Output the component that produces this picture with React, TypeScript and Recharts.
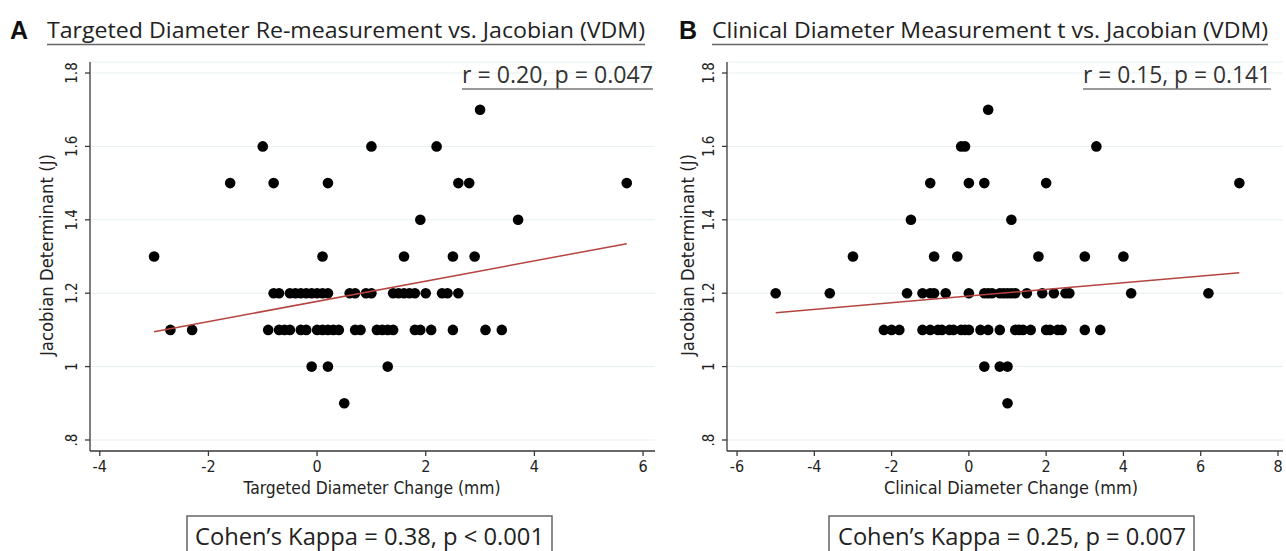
import { CartesianGrid, Scatter, ScatterChart, XAxis, YAxis } from "recharts";

// Panel A: targeted diameter change (mm) vs Jacobian determinant
const targetedPoints = [
  { x: 3.0, y: 1.7 },
  { x: -1.0, y: 1.6 }, { x: 1.0, y: 1.6 }, { x: 2.2, y: 1.6 },
  { x: -1.6, y: 1.5 }, { x: -0.8, y: 1.5 }, { x: 0.2, y: 1.5 }, { x: 2.6, y: 1.5 },
  { x: 2.8, y: 1.5 }, { x: 5.7, y: 1.5 },
  { x: 1.9, y: 1.4 }, { x: 3.7, y: 1.4 },
  { x: -3.0, y: 1.3 }, { x: 0.1, y: 1.3 }, { x: 1.6, y: 1.3 }, { x: 2.5, y: 1.3 }, { x: 2.9, y: 1.3 },
  { x: -0.8, y: 1.2 }, { x: -0.7, y: 1.2 }, { x: -0.5, y: 1.2 }, { x: -0.4, y: 1.2 },
  { x: -0.3, y: 1.2 }, { x: -0.2, y: 1.2 }, { x: -0.1, y: 1.2 }, { x: 0.0, y: 1.2 },
  { x: 0.1, y: 1.2 }, { x: 0.2, y: 1.2 }, { x: 0.6, y: 1.2 }, { x: 0.7, y: 1.2 },
  { x: 0.9, y: 1.2 }, { x: 1.0, y: 1.2 }, { x: 1.4, y: 1.2 }, { x: 1.5, y: 1.2 },
  { x: 1.6, y: 1.2 }, { x: 1.7, y: 1.2 }, { x: 1.8, y: 1.2 }, { x: 2.0, y: 1.2 },
  { x: 2.3, y: 1.2 }, { x: 2.4, y: 1.2 }, { x: 2.6, y: 1.2 },
  { x: -2.7, y: 1.1 }, { x: -2.3, y: 1.1 }, { x: -0.9, y: 1.1 }, { x: -0.7, y: 1.1 },
  { x: -0.6, y: 1.1 }, { x: -0.5, y: 1.1 }, { x: -0.3, y: 1.1 }, { x: -0.2, y: 1.1 },
  { x: 0.0, y: 1.1 }, { x: 0.1, y: 1.1 }, { x: 0.2, y: 1.1 }, { x: 0.3, y: 1.1 },
  { x: 0.4, y: 1.1 }, { x: 0.7, y: 1.1 }, { x: 0.8, y: 1.1 }, { x: 1.1, y: 1.1 },
  { x: 1.2, y: 1.1 }, { x: 1.3, y: 1.1 }, { x: 1.4, y: 1.1 }, { x: 1.8, y: 1.1 },
  { x: 1.9, y: 1.1 }, { x: 2.1, y: 1.1 }, { x: 2.5, y: 1.1 }, { x: 3.1, y: 1.1 }, { x: 3.4, y: 1.1 },
  { x: -0.1, y: 1.0 }, { x: 0.2, y: 1.0 }, { x: 1.3, y: 1.0 },
  { x: 0.5, y: 0.9 },
];
const targetedFit = [
  { x: -3.0, y: 1.095 },
  { x: 5.7, y: 1.335 },
];

// Panel B: clinical diameter change (mm) vs Jacobian determinant
const clinicalPoints = [
  { x: 0.5, y: 1.7 },
  { x: -0.2, y: 1.6 }, { x: -0.1, y: 1.6 }, { x: 3.3, y: 1.6 },
  { x: -1.0, y: 1.5 }, { x: 0.0, y: 1.5 }, { x: 0.4, y: 1.5 }, { x: 2.0, y: 1.5 }, { x: 7.0, y: 1.5 },
  { x: -1.5, y: 1.4 }, { x: 1.1, y: 1.4 },
  { x: -3.0, y: 1.3 }, { x: -0.9, y: 1.3 }, { x: -0.3, y: 1.3 }, { x: 1.8, y: 1.3 },
  { x: 3.0, y: 1.3 }, { x: 4.0, y: 1.3 },
  { x: -5.0, y: 1.2 }, { x: -3.6, y: 1.2 }, { x: -1.6, y: 1.2 }, { x: -1.2, y: 1.2 },
  { x: -1.0, y: 1.2 }, { x: -0.9, y: 1.2 }, { x: -0.6, y: 1.2 }, { x: 0.0, y: 1.2 },
  { x: 0.4, y: 1.2 }, { x: 0.5, y: 1.2 }, { x: 0.6, y: 1.2 }, { x: 0.8, y: 1.2 },
  { x: 0.9, y: 1.2 }, { x: 1.0, y: 1.2 }, { x: 1.1, y: 1.2 }, { x: 1.2, y: 1.2 },
  { x: 1.5, y: 1.2 }, { x: 1.9, y: 1.2 }, { x: 2.2, y: 1.2 }, { x: 2.5, y: 1.2 },
  { x: 2.6, y: 1.2 }, { x: 4.2, y: 1.2 }, { x: 6.2, y: 1.2 },
  { x: -2.2, y: 1.1 }, { x: -2.0, y: 1.1 }, { x: -1.8, y: 1.1 }, { x: -1.2, y: 1.1 },
  { x: -1.0, y: 1.1 }, { x: -0.8, y: 1.1 }, { x: -0.7, y: 1.1 }, { x: -0.5, y: 1.1 },
  { x: -0.4, y: 1.1 }, { x: -0.2, y: 1.1 }, { x: -0.1, y: 1.1 }, { x: 0.0, y: 1.1 },
  { x: 0.3, y: 1.1 }, { x: 0.5, y: 1.1 }, { x: 0.8, y: 1.1 }, { x: 1.2, y: 1.1 },
  { x: 1.3, y: 1.1 }, { x: 1.4, y: 1.1 }, { x: 1.6, y: 1.1 }, { x: 2.0, y: 1.1 },
  { x: 2.1, y: 1.1 }, { x: 2.3, y: 1.1 }, { x: 2.4, y: 1.1 }, { x: 3.0, y: 1.1 }, { x: 3.4, y: 1.1 },
  { x: 0.4, y: 1.0 }, { x: 0.8, y: 1.0 }, { x: 1.0, y: 1.0 },
  { x: 1.0, y: 0.9 },
];
const clinicalFit = [
  { x: -5.0, y: 1.147 },
  { x: 7.0, y: 1.256 },
];

const yTicks = [0.8, 1, 1.2, 1.4, 1.6, 1.8];
const yTickLabels = [".8", "1", "1.2", "1.4", "1.6", "1.8"];
const targetedXTicks = [-4, -2, 0, 2, 4, 6];
const clinicalXTicks = [-6, -4, -2, 0, 2, 4, 6, 8];

const AXIS = "#3a3a3a";
const GRID = "#e6eff2";
const FIT = "#b5443f";
const NARROW = "'Liberation Sans Narrow', 'DejaVu Sans Condensed', 'Liberation Sans', Arial, sans-serif";
const TITLE_FONT = "'Open Sans', 'Noto Sans', sans-serif";

function YTick(props: any) {
  const { x, y, payload } = props;
  const idx = yTicks.indexOf(payload.value);
  const label = idx >= 0 ? yTickLabels[idx] : String(payload.value);
  return (
    <g transform={`translate(${x - 6},${y})`}>
      <text transform="rotate(-90)" textAnchor="middle" fontSize={15} fontFamily={NARROW} fill="#222">
        {label}
      </text>
    </g>
  );
}

function XTick(props: any) {
  const { x, y, payload } = props;
  return (
    <text x={x} y={y + 14} textAnchor="middle" fontSize={16} fontFamily={NARROW} fill="#222">
      {payload.value}
    </text>
  );
}

const dot = (p: any) => <circle cx={p.cx} cy={p.cy} r={5.3} fill="#000" />;
const noDot = () => <g />;

type PanelProps = {
  points: { x: number; y: number }[];
  fit: { x: number; y: number }[];
  xDomain: [number, number];
  xTicks: number[];
  width: number;
  left: number;
  marginLeft: number;
  marginRight: number;
};

function Panel({ points, fit, xDomain, xTicks, width, left, marginLeft, marginRight }: PanelProps) {
  return (
    <div style={{ position: "absolute", left, top: 0 }}>
      <ScatterChart
        width={width}
        height={500}
        margin={{ top: 62, right: marginRight, bottom: 19, left: marginLeft }}
      >
        <CartesianGrid vertical={false} stroke={GRID} strokeWidth={1} />
        <XAxis
          type="number"
          dataKey="x"
          domain={xDomain}
          ticks={xTicks}
          allowDataOverflow
          height={30}
          tickSize={5}
          stroke={AXIS}
          strokeWidth={1.3}
          tick={<XTick />}
        />
        <YAxis
          type="number"
          dataKey="y"
          domain={[0.77, 1.83]}
          ticks={yTicks}
          allowDataOverflow
          width={60}
          tickSize={5}
          stroke={AXIS}
          strokeWidth={1.3}
          tick={<YTick />}
        />
        <Scatter data={points} fill="#000" shape={dot} isAnimationActive={false} />
        <Scatter
          data={fit}
          line={{ stroke: FIT, strokeWidth: 1.5 }}
          shape={noDot}
          isAnimationActive={false}
        />
      </ScatterChart>
    </div>
  );
}

export default function App() {
  return (
    <div
      style={{
        position: "absolute",
        left: 0,
        top: 0,
        width: 1286,
        height: 551,
        background: "#fff",
        overflow: "hidden",
      }}
    >
      <Panel
        points={targetedPoints}
        fit={targetedFit}
        xDomain={[-4.18, 6.22]}
        xTicks={targetedXTicks}
        width={660}
        left={0}
        marginLeft={30}
        marginRight={5}
      />
      <Panel
        points={clinicalPoints}
        fit={clinicalFit}
        xDomain={[-6.26, 8.13]}
        xTicks={clinicalXTicks}
        width={646}
        left={640}
        marginLeft={27}
        marginRight={3}
      />
      <svg
        width={1286}
        height={551}
        style={{ position: "absolute", left: 0, top: 0, pointerEvents: "none" }}
      >
        {/* panel titles */}
        <text x={10} y={39} fontSize={25} fontWeight="bold" fontFamily="'Liberation Sans', Arial, sans-serif" fill="#111">A</text>
        <text x={47} y={38} fontSize={22.5} fontFamily={TITLE_FONT} fill="#222" textLength={598} lengthAdjust="spacingAndGlyphs">
          Targeted Diameter Re-measurement vs. Jacobian (VDM)
        </text>
        <line x1={47} x2={645} y1={44.5} y2={44.5} stroke="#666" strokeWidth={1.6} />
        <text x={679} y={39} fontSize={25} fontWeight="bold" fontFamily="'Liberation Sans', Arial, sans-serif" fill="#111">B</text>
        <text x={712} y={38} fontSize={22.5} fontFamily={TITLE_FONT} fill="#222" textLength={556} lengthAdjust="spacingAndGlyphs">
          Clinical Diameter Measurement t vs. Jacobian (VDM)
        </text>
        <line x1={712} x2={1268} y1={44.5} y2={44.5} stroke="#666" strokeWidth={1.6} />

        {/* correlation stats */}
        <text x={462} y={83} fontSize={23} fontFamily={TITLE_FONT} fill="#333" textLength={191} lengthAdjust="spacingAndGlyphs">
          r = 0.20, p = 0.047
        </text>
        <line x1={462} x2={653} y1={89} y2={89} stroke="#777" strokeWidth={1.6} />
        <text x={1083} y={83} fontSize={23} fontFamily={TITLE_FONT} fill="#333" textLength={188} lengthAdjust="spacingAndGlyphs">
          r = 0.15, p = 0.141
        </text>
        <line x1={1083} x2={1271} y1={89} y2={89} stroke="#777" strokeWidth={1.6} />

        {/* axis titles */}
        <text transform="translate(53,255) rotate(-90)" textAnchor="middle" fontSize={17} fontFamily={NARROW} fill="#222" textLength={202} lengthAdjust="spacingAndGlyphs">
          Jacobian Determinant (J)
        </text>
        <text transform="translate(694,255) rotate(-90)" textAnchor="middle" fontSize={17} fontFamily={NARROW} fill="#222" textLength={202} lengthAdjust="spacingAndGlyphs">
          Jacobian Determinant (J)
        </text>
        <text x={372} y={494} textAnchor="middle" fontSize={17} fontFamily={NARROW} fill="#222" textLength={257} lengthAdjust="spacingAndGlyphs">
          Targeted Diameter Change (mm)
        </text>
        <text x={1011} y={494} textAnchor="middle" fontSize={17} fontFamily={NARROW} fill="#222" textLength={254} lengthAdjust="spacingAndGlyphs">
          Clinical Diameter Change (mm)
        </text>

        {/* kappa boxes */}
        <rect x={187} y={516} width={365} height={42} fill="none" stroke="#666" strokeWidth={1.5} />
        <text x={195} y={545} fontSize={23} fontFamily={TITLE_FONT} fill="#222" textLength={349} lengthAdjust="spacingAndGlyphs">
          Cohen’s Kappa = 0.38, p &lt; 0.001
        </text>
        <rect x={829} y={516} width={365} height={42} fill="none" stroke="#666" strokeWidth={1.5} />
        <text x={838} y={545} fontSize={23} fontFamily={TITLE_FONT} fill="#222" textLength={348} lengthAdjust="spacingAndGlyphs">
          Cohen’s Kappa = 0.25, p = 0.007
        </text>
      </svg>
    </div>
  );
}
